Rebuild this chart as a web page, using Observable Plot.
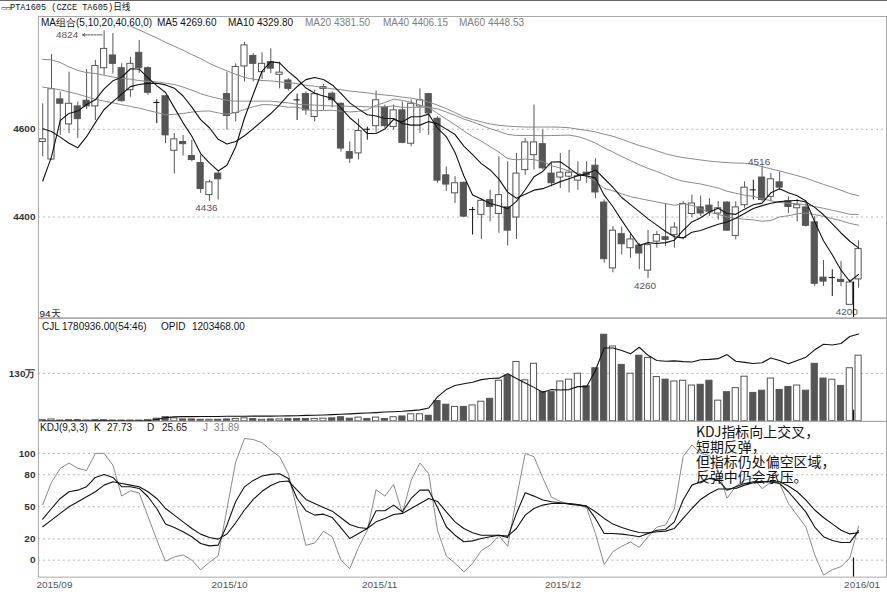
<!DOCTYPE html>
<html><head><meta charset="utf-8">
<script src="https://cdn.jsdelivr.net/npm/d3@7"></script>
<script src="https://cdn.jsdelivr.net/npm/@observablehq/plot@0.6"></script>
<style>
body{margin:0;background:#fff;}
#wrap{position:relative;width:887px;height:600px;overflow:hidden;background:#fff;font-family:"Liberation Sans",Arial,sans-serif;}
#wrap svg{position:absolute;left:0;}
#wrap svg [aria-label="y-axis tick label"]{font-weight:bold;fill:#333;}
.t{position:absolute;white-space:nowrap;font-size:10px;line-height:12px;color:#111;}
.g{color:#808080;}
</style></head><body><div id="wrap"></div>
<script>
// ---------- data ----------
const open = [4571,4531,4668,4611,4652,4665,4652,4739,4768,4739, 4689,4774,4739,4662,4675,4551,4571,4539,4523,4450,
  4499,4680,4637,4743,4767,4730,4753,4724,4711,4668, 4680,4628,4692,4681,4658,4548,4545,4601,4607,4649,
  4605,4643,4567,4652,4680,4624,4495,4454,4478,4417, 4405,4439,4407,4422,4399,4507,4541,4566,4499,4490,
  4492,4483,4501,4517,4433,4283,4361,4329,4335,4278, 4344,4354,4359,4352,4407,4422,4426,4408,4433,4357,
  4427,4463,4490,4446,4479,4436,4420,4422,4388,4262, 4262,4257,4200,4258];
const high = [4658,4770,4685,4730,4662,4736,4757,4824,4818,4749, 4764,4802,4742,4667,4677,4590,4586,4575,4541,4484,
  4503,4730,4749,4798,4772,4774,4783,4753,4715,4680, 4685,4689,4702,4685,4660,4571,4623,4605,4687,4655,
  4655,4662,4667,4692,4681,4628,4514,4492,4480,4422, 4442,4461,4537,4526,4545,4579,4655,4598,4522,4545,
  4552,4526,4526,4533,4439,4378,4377,4363,4340,4370, 4367,4431,4387,4435,4450,4448,4442,4435,4435,4435,
  4480,4484,4516,4499,4503,4446,4439,4433,4401,4301, 4280,4299,4257,4346];
const low = [4537,4529,4586,4590,4579,4645,4620,4723,4726,4662, 4673,4727,4677,4613,4567,4498,4539,4526,4454,4436,
  4439,4598,4617,4708,4708,4713,4727,4692,4687,4620, 4632,4617,4643,4649,4548,4522,4530,4575,4592,4602,
  4598,4567,4560,4590,4586,4477,4458,4431,4399,4359, 4349,4389,4363,4334,4349,4495,4507,4507,4469,4465,
  4455,4461,4477,4442,4295,4273,4314,4306,4280,4260, 4329,4333,4329,4348,4399,4401,4401,4393,4367,4348,
  4420,4439,4435,4435,4461,4408,4389,4377,4242,4242, 4219,4242,4200,4238];
const close = [4577,4691,4658,4658,4623,4652,4744,4783,4749,4664, 4749,4739,4683,4661,4586,4577,4566,4530,4464,4479,
  4486,4630,4742,4791,4749,4749,4738,4729,4692,4667, 4643,4680,4696,4666,4556,4533,4596,4600,4666,4607,
  4643,4569,4658,4666,4636,4483,4474,4477,4401,4417, 4437,4423,4450,4369,4499,4570,4570,4511,4477,4501,
  4501,4493,4495,4456,4304,4369,4338,4349,4317,4336, 4359,4348,4376,4430,4431,4408,4412,4420,4369,4422,
  4467,4462,4439,4486,4467,4423,4427,4380,4248,4253, 4262,4252,4251,4327];
// volume in 万 (10,000 lots)
const volume = [3,5,2,3,3,2,3,3,2,2, 2,2,3,7,11,8,5,5,4,4, 4,5,6,8,6,4,5,5,6,6, 6,6,7,8,11,7,10,6,10,6,
  11,13,19,19,15,55,45,39,39,43, 53,61,110,124,161,111,156,79,79,108, 113,129,95,144,235,203,153,129,178,172,
  120,113,108,110,97,99,110,56,79,90, 121,77,83,116,85,93,97,83,156,116, 113,96,144,178.1];
const opid = [1,1,1,1,1,1.5,2,2,1.5,1, 1,1,1.5,5,10,12,12.5,12.5,13,13, 13,13.5,13.5,13.5,14,14,14,14.5,14.5,15,
  16,16.5,17,18,19,20,21.5,22.5,23.5,25, 26,27,29,31,36,66,86,97,102,106, 113,116,117,129,116,104,92,79,86,85,
  86,94,94,138,199,199,192,183,201,179, 165,163,164,162,161,167,168,170,181,163, 160,157,159,172,165,156,165,174,194,209,
  207,211,230,237];
const ma5 = [4482,4537,4620,4636,4641.4,4656.4,4667.0,4692.0,4710.2,4718.4, 4737.8,4736.8,4716.8,4699.2,4683.6,4649.2,4614.6,4584.0,4544.6,4523.2,
  4505.0,4517.8,4560.2,4625.6,4679.6,4732.2,4753.8,4751.2,4731.4,4715.0, 4693.8,4682.2,4675.6,4670.4,4648.2,4626.2,4609.4,4590.2,4590.2,4600.4,
  4622.4,4617.0,4628.6,4628.6,4634.4,4602.4,4583.4,4547.2,4494.2,4450.4, 4441.2,4431.0,4425.6,4419.2,4435.6,4462.2,4491.6,4503.8,4525.4,4525.8,
  4512.0,4496.6,4493.4,4489.2,4449.8,4423.4,4392.4,4363.2,4335.4,4341.8, 4339.8,4341.8,4347.2,4369.8,4388.8,4398.6,4411.4,4420.2,4408.0,4406.2,
  4418.0,4428.0,4431.8,4455.2,4464.2,4455.4,4448.4,4436.6,4389.0,4346.2, 4314.0,4279.0,4253.2,4269.6];
const ma10 = [4601,4595,4582,4568,4558,4583,4615,4645,4663,4679.9, 4697.1,4701.9,4704.4,4704.7,4701.0,4693.5,4675.7,4650.4,4621.9,4603.4,
  4577.1,4566.2,4572.1,4585.1,4601.4,4618.6,4635.8,4655.7,4678.5,4697.3, 4713.0,4718.0,4713.4,4700.9,4681.6,4660.0,4645.8,4632.9,4630.3,4624.3,
  4624.3,4613.2,4609.4,4609.4,4617.4,4612.4,4600.2,4587.9,4561.4,4542.4, 4521.8,4507.2,4486.4,4456.7,4443.0,4451.7,4461.3,4464.7,4472.3,4480.7,
  4487.1,4494.1,4498.6,4507.3,4487.8,4467.7,4444.5,4428.3,4412.3,4395.8, 4381.6,4367.1,4355.2,4352.6,4365.3,4369.2,4376.6,4383.7,4388.9,4397.5,
  4408.3,4419.7,4426.0,4431.6,4435.2,4436.7,4438.2,4434.2,4422.1,4405.2, 4384.7,4363.7,4344.9,4329.8];
const ma20 = [4696,4693,4690,4685,4680,4674,4668,4664,4660,4656, 4652,4648,4643,4638,4633,4634,4636,4639,4641,4641.7,
  4637.1,4634.1,4638.3,4644.9,4651.2,4656.1,4655.8,4653.1,4650.2,4650.4, 4645.1,4642.1,4642.8,4643.0,4641.5,4639.3,4640.8,4644.3,4654.4,4660.8,
  4668.7,4665.6,4661.4,4655.2,4649.5,4636.2,4623.0,4610.4,4595.9,4583.4, 4573.1,4560.2,4547.9,4533.1,4530.2,4532.1,4530.8,4526.3,4516.9,4511.6,
  4504.5,4500.7,4492.5,4482.0,4465.4,4459.7,4452.9,4446.5,4442.3,4438.3, 4434.4,4430.6,4426.9,4430.0,4426.6,4418.5,4410.6,4406.0,4400.6,4396.7,
  4395.0,4393.4,4390.6,4392.1,4400.3,4403.0,4407.4,4409.0,4405.5,4401.4, 4396.5,4391.7,4385.5,4381.5];
const ma40 = [4759,4758,4752,4742,4734,4729,4727,4723,4719,4716, 4714,4711,4709,4708,4705,4702,4696,4689,4681,4675,
  4670,4666,4664,4664,4664,4664,4664,4662,4660,4657, 4656,4655,4654,4653,4653,4652,4652,4651,4651,4651.3,
  4652.9,4649.9,4649.9,4650.1,4650.4,4646.2,4639.4,4631.8,4623.1,4616.9, 4609.1,4601.2,4595.4,4588.1,4585.9,4585.7,4585.8,4585.3,4585.7,4586.2,
  4586.6,4583.2,4577.0,4568.6,4557.5,4548.0,4538.0,4528.5,4519.1,4510.9, 4503.8,4495.4,4487.4,4481.6,4478.4,4475.3,4470.7,4466.2,4458.8,4454.2,
  4449.8,4447.1,4441.6,4437.1,4432.9,4431.4,4430.2,4427.8,4423.9,4419.9, 4415.5,4411.2,4406.2,4406.15];
const ma60 = [null,null,null,null,null,null,null,null,null,null, 4835,4826,4817,4808,4798,4789,4780,4770,4761,4750,
  4741,4733,4725,4718,4714,4711,4710,4708,4706,4704, 4700,4698,4695,4692,4690,4687,4685,4683,4680,4678,
  4676,4673,4671,4667,4662,4655,4647,4638,4628,4622, 4617,4612,4609,4607,4606,4605,4605,4605,4605,4604.7,
  4603.4,4600.1,4597.4,4594.0,4588.7,4584.0,4577.2,4570.0,4562.8,4557.4, 4550.9,4544.3,4539.2,4535.4,4532.8,4530.0,4527.4,4525.5,4524.0,4523.0,
  4522.7,4519.9,4514.8,4509.8,4505.1,4499.6,4494.4,4488.6,4481.2,4474.4, 4468.0,4460.8,4453.4,4448.53];
const kdjK = [38.4,48.4,57.8,64.1,65.6,68.8,77.5,80.3,77.5,68.8, 68.8,67.2,59.4,48.4,33.8,30.6,26.6,21.9,15.6,13.4,
  14.1,33,55,68.7,74.7,78.9,80.4,81,76.5,57.8, 46.3,42.2,43.1,40,30.3,20.3,25,29.7,46.3,46.3,
  51.6,45.3,57.8,65.6,65.6,49.4,31.3,23.4,17.2,18.1, 20.3,21.9,23.4,21.3,43.8,63.1,60,56.3,54.7,53.8,
  52.5,51.6,50.6,39.1,25,25,24.4,23.4,21.9,25, 28.1,28.8,35.9,56.3,70.3,73.4,76.6,75,65.6,68.8,
  71.9,73.4,73.4,73.4,71.9,64.1,54.7,45,31,22, 18.5,16.5,16.5,27.73];
const kdjD = [31.3,37.5,43.8,50,54.7,59.4,64.1,70.3,73.4,71.9, 70.3,68.8,64.1,57.8,48.4,42.2,35.9,29.7,24.4,21.3,
  19.7,24.5,35,47,57,64.5,70,73.4,74.1,65.6, 56.9,53.1,49.4,45.9,39.7,33.4,30.6,29.7,35.9,39.1,
  42.8,43.8,48.4,53.1,57.8,55,45.3,35.9,29.7,25.6, 23.4,23.4,23.4,22.5,29.7,42.2,48.4,51.6,53.1,53.1,
  53.1,52.2,50.6,45.3,39.1,33.8,30.6,28.1,25.9,25.6, 26.6,27.2,29.7,39.1,48.4,56.9,62.5,66.6,66.6,67.2,
  70.3,72.5,73.4,73.4,73.4,69.4,64.1,56.3,47,40, 34,28,24.6,25.65];
const kdjJ = [52,73,86,91,86,84,100,100,89,60, 65,63,41,19,-1,3,5,0,-9,-2,
  4,48,92,114,113,110,103,97,81,47, 14,16,27,22,0,-8,12,28,66,60,
  71,44,75,91,81,28,4,-3,-11,-3, 9,14,23,13,58,100,97,77,59,55,
  53,52,49,25,-4,8,13,17,12,22, 31,33,48,97,108,100,98,84,58,69,
  75,77,67,73,72,53,42,31,5,-14, -9,-6,2,31.89];
const priceTicks = [4400, 4600];
const volTicks = [130];
const kdjTicks = [0, 20, 50, 80, 100];
const monthLabels = ["2015/09", "2015/10", "2015/11", "2015/12", "2016/01"];
const monthPos = [-0.72, 21.3, 38.4, 59.3, 93.4];
const lowLabels = [{i: 19, v: 4436}, {i: 69, v: 4260}, {i: 92, v: 4200}];
const highLabels = [{i: 82, v: 4516}];
const leftLabels = [{i: 7, v: 4824}];
const cursor = [{i: 92.42, price: 4252, vol: 30, kdj: 2}];
const note = [{i: 74.46, v: 125, text: "KDJ指标向上交叉，\n短期反弹，\n但指标仍处偏空区域，\n反弹中仍会承压。"}];

// ---------- build ----------
const candles = close.map((c, i) => ({i, o: open[i], h: high[i], l: low[i], c, v: volume[i]}));
const isDoji = d => Math.abs(d.c - d.o) <= 1;
const solid = candles.filter(d => !isDoji(d));
const dojis = candles.filter(isDoji);
const bw = 0.35;
const W = 889;
const xDomain = [-0.489, 96.18];
const priceDomain = [4170.5, 4856.8];
const volDomain = [0, 279];
const kdjDomain = [-15.9, 129.9];
const style = {fontFamily: "'Liberation Sans', Arial, sans-serif", fontSize: "10px", background: "transparent", overflow: "visible"};
const grid = {stroke: "#b4b4b4", strokeDasharray: "2,3"};
const body = {x1: d => d.i - bw, x2: d => d.i + bw};

const price = Plot.plot({
  width: W, height: 302, marginLeft: 38, marginRight: 1, marginTop: 0, marginBottom: 0, style,
  x: {domain: xDomain, axis: null},
  y: {domain: priceDomain, ticks: priceTicks, tickSize: 0, tickPadding: 3, label: null, tickFormat: d => `${d}`},
  marks: [
    Plot.ruleY(priceTicks, grid),
    Plot.ruleX(solid, {x: "i", y1: "l", y2: "h", stroke: "#555"}),
    Plot.rect(solid.filter(d => d.c < d.o), {...body, y1: "o", y2: "c", fill: "#555", stroke: "#555"}),
    Plot.rect(solid.filter(d => d.c >= d.o), {...body, y1: "o", y2: "c", fill: "#fff", stroke: "#555"}),
    Plot.ruleX(dojis, {x: "i", y1: "l", y2: "h", stroke: "#111"}),
    Plot.ruleY(dojis, {...body, y: "c", stroke: "#111"}),
    Plot.lineY(ma60, {stroke: "#8a8a8a", strokeWidth: 1}),
    Plot.lineY(ma40, {stroke: "#8a8a8a", strokeWidth: 1}),
    Plot.lineY(ma20, {stroke: "#8a8a8a", strokeWidth: 1}),
    Plot.lineY(ma10, {stroke: "#111", strokeWidth: 1.1}),
    Plot.lineY(ma5, {stroke: "#111", strokeWidth: 1.1}),
    Plot.text(lowLabels, {x: "i", y: "v", text: d => `${d.v}`, lineAnchor: "top", dy: 3, dx: -3, fill: "#555", fontSize: 10}),
    Plot.text(highLabels, {x: "i", y: "v", text: d => `${d.v}`, lineAnchor: "bottom", dy: -1, dx: -3, fill: "#555", fontSize: 10}),
    Plot.text(leftLabels, {x: "i", y: "v", text: d => `${d.v}`, textAnchor: "end", dx: -26, dy: 4, fill: "#555", fontSize: 10}),
    Plot.arrow(leftLabels, {x1: d => d.i - 0.23, x2: d => d.i - 2.45, y1: "v", y2: "v", dy: 4, stroke: "#555", strokeWidth: 1, headLength: 4, strokeDasharray: "2,1"}),
    Plot.ruleX(cursor, {x: "i", y1: "price", y2: () => priceDomain[0], stroke: "#111", strokeWidth: 1.2}),
    Plot.text(["94天"], {frameAnchor: "bottom-left", textAnchor: "start", lineAnchor: "bottom", dx: 1, dy: -1, fill: "#111", fontSize: 10}),
    Plot.frame({stroke: "#a8a8a8"})
  ]
});

const vol = Plot.plot({
  width: W, height: 103, marginLeft: 38, marginRight: 1, marginTop: 0, marginBottom: 0, style,
  x: {domain: xDomain, axis: null},
  y: {domain: volDomain, ticks: volTicks, tickSize: 0, tickPadding: 3, label: null, tickFormat: d => `${d}万`},
  marks: [
    Plot.ruleY(volTicks, grid),
    Plot.rect(candles.filter(d => d.c < d.o), {...body, y1: 0, y2: "v", fill: "#555", stroke: "#555"}),
    Plot.rect(candles.filter(d => d.c >= d.o), {...body, y1: 0, y2: "v", fill: "#fff", stroke: "#555"}),
    Plot.lineY(opid, {stroke: "#111", strokeWidth: 1.1}),
    Plot.ruleX(cursor, {x: "i", y1: "vol", y2: () => volDomain[0], stroke: "#111", strokeWidth: 1.2}),
    Plot.frame({stroke: "#a8a8a8"})
  ]
});

const kdj = Plot.plot({
  width: W, height: 179, marginLeft: 38, marginRight: 1, marginTop: 0, marginBottom: 23, style,
  x: {domain: xDomain, axis: null},
  y: {domain: kdjDomain, ticks: kdjTicks, tickSize: 0, tickPadding: 3, label: null, tickFormat: d => `${d}`},
  marks: [
    Plot.ruleY(kdjTicks, grid),
    Plot.lineY(kdjJ, {stroke: "#8a8a8a", strokeWidth: 1}),
    Plot.lineY(kdjD, {stroke: "#111", strokeWidth: 1.1}),
    Plot.lineY(kdjK, {stroke: "#111", strokeWidth: 1.1}),
    Plot.text(note, {x: "i", y: "v", text: "text", textAnchor: "start", lineAnchor: "top", lineHeight: 1.07,
      fontSize: 14, fontFamily: "'Noto Sans CJK SC', sans-serif", fill: "#111"}),
    Plot.ruleX(cursor, {x: "i", y1: "kdj", y2: () => kdjDomain[0], stroke: "#111", strokeWidth: 1.2}),
    Plot.text(monthPos.slice(0, 1), {x: d => d, text: (d, k) => monthLabels[k], frameAnchor: "bottom", textAnchor: "start", lineAnchor: "middle", dy: 8, fill: "#555", fontSize: 10}),
    Plot.text(monthPos.slice(1), {x: d => d, text: (d, k) => monthLabels[k + 1], frameAnchor: "bottom", lineAnchor: "middle", dy: 8, fill: "#555", fontSize: 10}),
    Plot.frame({stroke: "#a8a8a8"})
  ]
});

const wrap = document.getElementById("wrap");
function place(el, top) { el.style.top = top + "px"; wrap.appendChild(el); }
place(price, 16); place(vol, 318); place(kdj, 421);

function txt(s, left, cy, cls, extra) {
  const d = document.createElement("div");
  d.className = "t " + (cls || "");
  d.textContent = s;
  d.style.left = left + "px"; d.style.top = (cy - 6) + "px";
  if (extra) Object.assign(d.style, extra);
  wrap.appendChild(d);
}
const topLine = document.createElement("div");
Object.assign(topLine.style, {position: "absolute", left: "0", top: "0", width: "887px", height: "1px", background: "#666"});
wrap.appendChild(topLine);
txt("▭▭", 1, 8, "", {fontSize: "6px", fontFamily: "'DejaVu Sans'", letterSpacing: "-1px"});
txt("PTA1605 (CZCE TA605)日线", 10, 8, "", {fontSize: "8.6px", fontFamily: "'Liberation Mono', 'Noto Sans CJK SC', monospace"});
txt("MA组合(5,10,20,40,60,0)", 41, 23);
txt("MA5 4269.60", 157, 23);
txt("MA10 4329.80", 228, 23);
txt("MA20 4381.50", 305, 23, "g");
txt("MA40 4406.15", 383, 23, "g");
txt("MA60 4448.53", 459, 23, "g");
txt("CJL", 42, 327);
txt("1780936.00(54:46)", 62, 327);
txt("OPID", 161, 327);
txt("1203468.00", 192, 327);
txt("KDJ(9,3,3)", 40, 428);
txt("K", 94, 428);
txt("27.73", 107, 428);
txt("D", 147, 428);
txt("25.65", 162, 428);
txt("J", 203, 428, "g");
txt("31.89", 214, 428, "g");
</script></body></html>
